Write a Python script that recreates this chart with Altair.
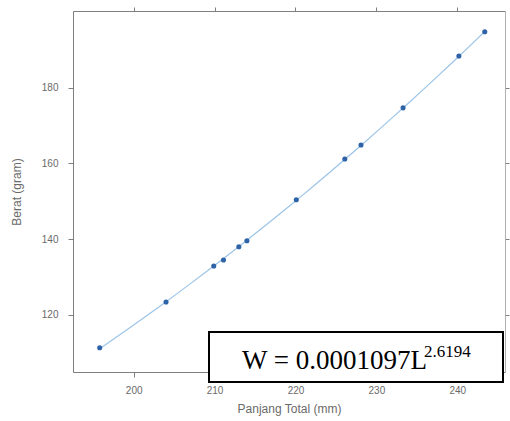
import altair as alt
import pandas as pd

panjang = [195.8, 204.0, 209.9, 211.1, 213.0, 214.0, 220.1, 226.1, 228.1, 233.3, 240.2, 243.4]
berat = [111.3, 123.4, 132.9, 134.5, 138.0, 139.6, 150.4, 161.2, 164.9, 174.7, 188.4, 194.8]
x_ticks = [200, 210, 220, 230, 240]
y_ticks = [120, 140, 160, 180]
eq_main = "W = 0.0001097L"
eq_exp = "2.6194"
x_title = "Panjang Total (mm)"
y_title = "Berat (gram)"

df = pd.DataFrame({"L": panjang, "W": berat})

AX = "#7f7f7f"
LAB = "#6a6a6a"
FONT = "Liberation Sans"

xs = alt.Scale(domain=[192.5, 245.9], nice=False, zero=False)
ys = alt.Scale(domain=[104.9, 200.3], nice=False, zero=False)

common_axis = dict(domainColor=AX, tickColor=AX, labelColor=LAB, labelFont=FONT,
                   labelFontSize=10, tickSize=5, grid=False, titleFont=FONT,
                   titleColor=LAB, titleFontWeight="normal", titleFontSize=12, zindex=0)

x_bottom = alt.X("L:Q", scale=xs, axis=alt.Axis(values=x_ticks, title=x_title, orient="bottom",
                                                labelPadding=8, titlePadding=8, **common_axis))
y_left = alt.Y("W:Q", scale=ys, axis=alt.Axis(values=y_ticks, title=y_title, orient="left",
                                              labelPadding=10, titlePadding=18, **common_axis))

line = alt.Chart(df).transform_regression("L", "W", method="pow").mark_line(
    color="#9cc4e8", strokeWidth=1.2
).encode(x=x_bottom, y=y_left)

points = alt.Chart(df).mark_circle(size=26, color="#2f63a8", opacity=1).encode(
    x=alt.X("L:Q", scale=xs, axis=alt.Axis(values=x_ticks, orient="top", labels=False, title=None,
                                           domainColor=AX, tickColor=AX, tickSize=4, grid=False)),
    y=alt.Y("W:Q", scale=ys, axis=alt.Axis(values=y_ticks, orient="right", labels=False, title=None,
                                           domainColor="#b0b0b0", tickColor=AX, tickSize=4, grid=False)),
)

box_df = pd.DataFrame({"t": [eq_main]})
box = alt.Chart(box_df).mark_rect(fill="white", stroke="black", strokeWidth=2, opacity=1).encode(
    x=alt.value(136), x2=alt.value(430), y=alt.value(321), y2=alt.value(371)
)
txt_main = alt.Chart(box_df).mark_text(
    font="Liberation Serif", fontSize=27, align="left", baseline="alphabetic", color="black"
).encode(x=alt.value(169), y=alt.value(358), text="t:N")
exp_df = pd.DataFrame({"t": [eq_exp]})
txt_exp = alt.Chart(exp_df).mark_text(
    font="Liberation Serif", fontSize=17, align="left", baseline="alphabetic", color="black"
).encode(x=alt.value(351), y=alt.value(346), text="t:N")

chart = alt.layer(line, points, box, txt_main, txt_exp).resolve_axis(
    x="independent", y="independent"
).properties(
    width=432, height=361,
    autosize=alt.AutoSizeParams(type="none"),
    padding={"left": 73, "top": 11, "right": 5, "bottom": 49},
).configure_view(stroke=None).configure(background="white")

chart.save("out.html", embed_options={"renderer": "svg", "actions": False})
